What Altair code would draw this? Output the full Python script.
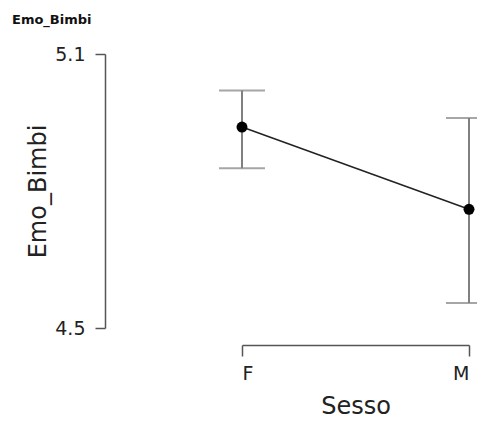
import altair as alt
import pandas as pd

sesso = ["F", "M"]
pos = [0, 1]
mean = [4.94, 4.76]
lower = [4.85, 4.555]
upper = [5.02, 4.96]

df = pd.DataFrame({"Sesso": sesso, "pos": pos, "mean": mean, "lower": lower, "upper": upper})

FONT = "DejaVu Sans"

x = alt.X("pos:Q", scale=alt.Scale(domain=[0, 1], nice=False, zero=False),
          axis=alt.Axis(title="Sesso", values=[0, 1], labelExpr="datum.value == 0 ? 'F' : 'M'",
                        offset=17, tickSize=11, grid=False, domainColor="#555", tickColor="#555",
                        domainWidth=1.5, tickWidth=1.5, labelFont=FONT, labelFontSize=19,
                        labelColor="#222", labelPadding=8, titleFont=FONT, titleFontSize=24,
                        titleFontWeight="normal", titleColor="#222", titlePadding=11))
y_scale = alt.Scale(domain=[4.5, 5.1], nice=False, zero=False)
y = alt.Y("mean:Q", scale=y_scale,
          axis=alt.Axis(title="Emo_Bimbi", values=[4.5, 5.1], format=".1f", offset=137,
                        tickSize=10, grid=False, domainColor="#555", tickColor="#555",
                        domainWidth=1.5, tickWidth=1.5, labelFont=FONT, labelFontSize=19,
                        labelColor="#222", labelPadding=10, titleFont=FONT, titleFontSize=24,
                        titleFontWeight="normal", titleColor="#222", titlePadding=4))

base = alt.Chart(df)

err = base.mark_rule(color="#808080", strokeWidth=2, clip=False).encode(
    x=x, y=alt.Y("lower:Q", scale=y_scale), y2="upper:Q")
cap_top = base.mark_tick(color="#808080", orient="horizontal", size=46, thickness=2, clip=False).encode(
    x=x, y=alt.Y("upper:Q", scale=y_scale))
cap_bot = base.mark_tick(color="#808080", orient="horizontal", size=46, thickness=2, clip=False).encode(
    x=x, y=alt.Y("lower:Q", scale=y_scale))
line = base.mark_line(color="#222", strokeWidth=1.5, clip=False).encode(x=x, y=y)
pts = base.mark_point(filled=True, color="#000", size=120, opacity=1, clip=False).encode(x=x, y=y)

title_txt = alt.Chart(pd.DataFrame({"t": ["Emo_Bimbi"]})).mark_text(
    align="left", baseline="middle", font=FONT, fontSize=13, fontWeight="bold", color="#111"
).encode(text="t:N", x=alt.value(-230), y=alt.value(-34))

chart = alt.layer(err, cap_top, cap_bot, line, pts, title_txt).properties(
    width=227, height=274,
    autosize=alt.AutoSizeParams(type="none"),
    padding={"left": 234, "top": 46, "right": 8, "bottom": 90},
).configure_view(stroke=None)

chart.save("out.html", embed_options={"renderer": "svg", "actions": False})
